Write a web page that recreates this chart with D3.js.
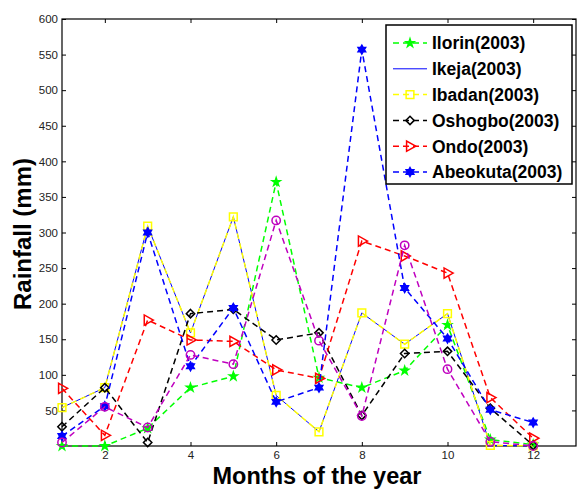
<!DOCTYPE html>
<html><head><meta charset="utf-8">
<script src="https://cdn.jsdelivr.net/npm/d3@7"></script>
<style>body{margin:0;background:#fff}svg{display:block}</style>
</head><body>
<svg id="c" width="578" height="489"></svg>
<script>
const months = [1,2,3,4,5,6,7,8,9,10,11,12];
const xTicks = [2,4,6,8,10,12];
const yTicks = [50,100,150,200,250,300,350,400,450,500,550,600];
const ilorin   = [0,0,25,82,98,371,96,82,106,170,9,2];
const ikeja    = [54,82,309,159,322,71,20,187,143,186,1,0];
const ibadan   = [54,82,309,159,322,71,20,187,143,186,1,0];
const oshogbo  = [27,82,5,186,192,149,159,43,130,133,53,1];
const ondo     = [81,15,177,149,147,107,95,288,267,243,68,11];
const abeokuta = [14,56,300,112,194,62,82,557,222,151,51,33];
const extra    = [5,55,26,128,115,317,148,42,282,108,6,0];
const names = ["Ilorin(2003)","Ikeja(2003)","Ibadan(2003)","Oshogbo(2003)","Ondo(2003)","Abeokuta(2003)"];

const svg = d3.select("#c");
const L=62,R=576,T=19,B=446;
const x = d3.scaleLinear().domain([1,13]).range([L,R]);
const y = d3.scaleLinear().domain([0,600]).range([B,T]);

const hexagram = {draw(ctx,size){
  const r = Math.sqrt(size)*0.62, ri=r*0.577;
  for(let i=0;i<12;i++){const a=-Math.PI/2+i*Math.PI/6, rr=i%2?ri:r;
    const px=rr*Math.cos(a), py=rr*Math.sin(a); i?ctx.lineTo(px,py):ctx.moveTo(px,py);}
  ctx.closePath();}};
const triRight = {draw(ctx,size){const r=Math.sqrt(size)*0.6;
  ctx.moveTo(r,0);ctx.lineTo(-r*0.6,-r*0.9);ctx.lineTo(-r*0.6,r*0.9);ctx.closePath();}};

const series = [
 {name:names[0], vals:ilorin, color:"#00ff00", dash:"6,4", sym:d3.symbolStar, size:20, fill:"#00ff00", w:1.5},
 {name:names[1], vals:ikeja, color:"#0000ff", dash:null, sym:null, w:1},
 {name:names[2], vals:ibadan, color:"#ffff00", dash:"6,4", sym:d3.symbolSquare, size:60, fill:"none", w:1.5},
 {name:names[3], vals:oshogbo, color:"#000000", dash:"6,4", sym:d3.symbolDiamond2, size:45, fill:"none", w:1.5},
 {name:names[4], vals:ondo, color:"#ff0000", dash:"6,4", sym:triRight, size:90, fill:"none", w:1.5},
 {name:names[5], vals:abeokuta, color:"#0000ff", dash:"6,4", sym:hexagram, size:50, fill:"#0000ff", w:1.5},
 {name:null, vals:extra, color:"#bf00bf", dash:"6,4", sym:d3.symbolCircle, size:55, fill:"none", w:1.5}
];

// frame
svg.append("rect").attr("x",L).attr("y",T).attr("width",R-L).attr("height",B-T)
  .attr("fill","none").attr("stroke","#000").attr("stroke-width",1.2);

const fmtAxis = g => { g.select(".domain").remove(); g.selectAll("line").attr("stroke","#000"); };
svg.append("g").attr("transform",`translate(0,${B})`)
  .call(d3.axisBottom(x).tickValues(xTicks).tickSize(-4).tickPadding(5).tickFormat(d3.format("d")))
  .call(fmtAxis).selectAll("text").attr("font-family","Liberation Sans, Arial").attr("font-size",11.5).attr("fill","#222");
svg.append("g").attr("transform",`translate(0,${T})`)
  .call(d3.axisTop(x).tickValues(xTicks).tickSize(-4).tickFormat(""))
  .call(fmtAxis);
svg.append("g").attr("transform",`translate(${L},0)`)
  .call(d3.axisLeft(y).tickValues(yTicks).tickSize(-4).tickPadding(4).tickFormat(d3.format("d")))
  .call(fmtAxis).selectAll("text").attr("font-family","Liberation Sans, Arial").attr("font-size",11.5).attr("fill","#222");
svg.append("g").attr("transform",`translate(${R},0)`)
  .call(d3.axisRight(y).tickValues(yTicks).tickSize(-4).tickFormat(""))
  .call(fmtAxis);

const line = d3.line().x((d,i)=>x(months[i])).y(d=>y(d));
series.forEach(s=>{
  svg.append("path").attr("d",line(s.vals)).attr("fill","none").attr("stroke",s.color)
    .attr("stroke-width",s.w).attr("stroke-dasharray",s.dash);
  if(s.sym){
    svg.append("g").selectAll("path").data(s.vals).join("path")
      .attr("transform",(d,i)=>`translate(${x(months[i])},${y(d)})`)
      .attr("d",d3.symbol().type(s.sym).size(s.size))
      .attr("fill",s.fill).attr("stroke",s.color).attr("stroke-width",1.5);
  }
});

// legend
const lg = svg.append("g");
lg.append("rect").attr("x",386).attr("y",25).attr("width",186).attr("height",159)
  .attr("fill","#fff").attr("stroke","#000").attr("stroke-width",1.5);
series.filter(s=>s.name).forEach((s,i)=>{
  const cy = 43 + i*25.8;
  lg.append("line").attr("x1",393).attr("x2",427).attr("y1",cy).attr("y2",cy)
    .attr("stroke",s.color).attr("stroke-width",s.w).attr("stroke-dasharray",s.dash);
  if(s.sym) lg.append("path").attr("transform",`translate(410,${cy})`)
    .attr("d",d3.symbol().type(s.sym).size(s.size)).attr("fill",s.fill).attr("stroke",s.color).attr("stroke-width",1.5);
  lg.append("text").attr("x",432).attr("y",cy+6.3).text(s.name)
    .attr("font-family","Liberation Sans, Arial").attr("font-weight","bold").attr("font-size",17.5).attr("fill","#000");
});

// titles
svg.append("text").attr("x",317).attr("y",484).attr("text-anchor","middle")
  .attr("font-family","Liberation Sans, Arial").attr("font-weight","bold").attr("font-size",23.5).text("Months of the year");
svg.append("text").attr("transform","translate(31,234) rotate(-90)").attr("text-anchor","middle")
  .attr("font-family","Liberation Sans, Arial").attr("font-weight","bold").attr("font-size",24).text("Rainfall (mm)");
</script>
</body></html>
